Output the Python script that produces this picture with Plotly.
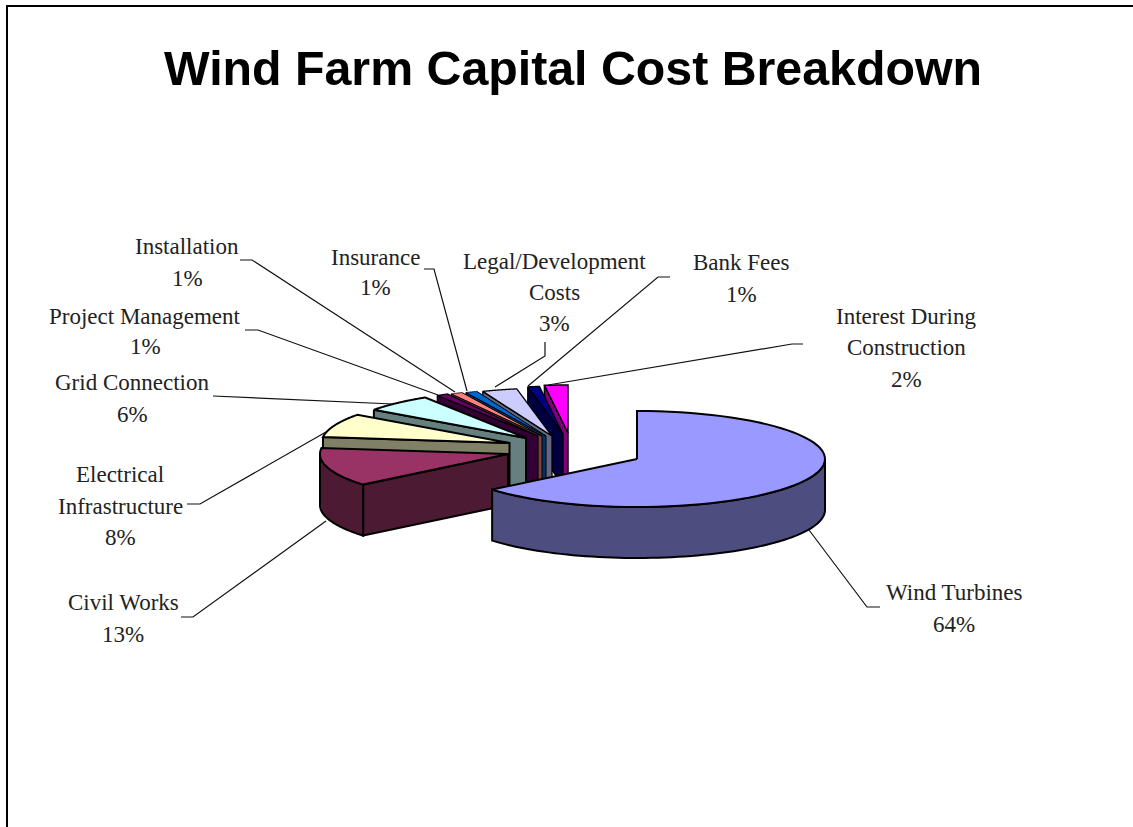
import numpy as np
import plotly.graph_objects as go

# --- data
categories = ["Wind Turbines", "Civil Works", "Electrical Infrastructure", "Grid Connection",
              "Project Management", "Installation", "Insurance",
              "Legal/Development Costs", "Bank Fees", "Interest During Construction"]
values = [64, 13, 8, 6, 1, 1, 1, 3, 1, 2]
title = "Wind Farm Capital Cost Breakdown"

# --- style
top_colors = ["#9999FF", "#993366", "#FFFFCC", "#CCFFFF", "#660066",
              "#FF8080", "#0066CC", "#CCCCFF", "#000080", "#FF00FF"]
side_colors = ["#4D4D80", "#4D1A33", "#808066", "#668080", "#330033",
               "#804040", "#003366", "#666680", "#000040", "#800080"]
edge_widths = [2, 2, 2, 2, 1.2, 1, 1, 1.3, 1.3, 1.5]

# --- projected pie geometry (explosion of each slice = position of its apex)
RX, RY, DEPTH = 188, 48, 51
apex_x = [637, 508, 509.5, 526, 538, 542, 546, 552, 563, 568]
apex_y = [459, 454, 443, 438, 436, 436, 436, 436, 434, 433]

# --- label layout: label lines, centre x, y of each line
label_lines = [
    ["Wind Turbines"], ["Civil Works"], ["Electrical", "Infrastructure"], ["Grid Connection"],
    ["Project Management"], ["Installation"], ["Insurance"],
    ["Legal/Development", "Costs"], ["Bank Fees"], ["Interest During", "Construction"],
]
label_x = [954, 123, 120, 132, 145, 187, 375, 554, 741, 906]
label_y = [
    [592, 624], [602, 634], [474, 506, 537], [382, 414], [316, 346],
    [246, 278], [257, 287], [261, 292, 323], [262, 294], [316, 347, 379],
]
leader_x = [
    [809, 867, 880], [326, 193, 181], [326, 200, 187], [393, 213], [438, 258, 245],
    [455, 252, 240], [467, 434, 424], [495, 545, 545], [528, 658, 670], [548, 792, 803],
]
leader_y = [
    [530, 607, 607], [521, 617, 617], [432, 504, 504], [404, 396], [395, 330, 330],
    [392, 260, 260], [391, 269, 269], [387, 356, 342], [386, 277, 277], [385, 344, 344],
]

fracs = np.array(values, dtype=float) / sum(values)
edges = np.concatenate([[0.0], np.cumsum(fracs) * 360.0])


def rim(cx, cy, a0, a1, n=70):
    th = np.radians(np.linspace(a0, a1, n))
    return cx + RX * np.sin(th), cy - RY * np.cos(th)


def poly(fig, xs, ys, color, width):
    fig.add_trace(go.Scatter(x=xs, y=ys, mode="lines", fill="toself", fillcolor=color,
                             line=dict(color="black", width=width, simplify=False),
                             hoverinfo="skip", showlegend=False))


fig = go.Figure()

# far slices first, the big front slice last
for i in range(len(values) - 1, -1, -1):
    a0, a1 = edges[i], edges[i + 1]
    cx, cy = apex_x[i], apex_y[i]
    w = edge_widths[i]
    ax, ay = rim(cx, cy, a0, a1)
    if i != 0:
        # wall along the slice's leading radius
        poly(fig, [ax[0], cx, cx, ax[0], ax[0]],
             [ay[0], cy, cy + DEPTH, ay[0] + DEPTH, ay[0]], side_colors[i], w)
    # outer rim where it faces the viewer (90..270 degrees)
    lo, hi = max(a0, 90.0), min(a1, 270.0)
    if lo < hi:
        rx, ry = rim(cx, cy, lo, hi)
        poly(fig, np.concatenate([rx, rx[::-1], rx[:1]]),
             np.concatenate([ry, ry[::-1] + DEPTH, ry[:1]]), side_colors[i], w)
    # top face
    poly(fig, np.concatenate([[cx], ax, [cx]]), np.concatenate([[cy], ay, [cy]]), top_colors[i], w)

# leader lines
for xs, ys in zip(leader_x, leader_y):
    fig.add_trace(go.Scatter(x=xs, y=ys, mode="lines", line=dict(color="#111111", width=1.2),
                             hoverinfo="skip", showlegend=False))

# labels
annotations = []
for lines, x, ys, v in zip(label_lines, label_x, label_y, values):
    for text, y in zip(lines + [f"{v}%"], ys):
        annotations.append(dict(x=x, y=y, text=text, showarrow=False, xanchor="center",
                                yanchor="middle", font=dict(family="Liberation Serif", size=23, color="#222222")))

fig.update_layout(
    width=1133, height=827, autosize=False,
    margin=dict(l=0, r=0, t=0, b=0),
    paper_bgcolor="white", plot_bgcolor="white",
    showlegend=False,
    title=dict(text=f"<b>{title}</b>", x=573 / 1133, y=1 - 68 / 827, xanchor="center", yanchor="middle",
               xref="paper", yref="container",
               font=dict(family="Liberation Sans", size=48.3, color="black")),
    xaxis=dict(range=[0, 1133], visible=False, fixedrange=True),
    yaxis=dict(range=[827, 0], visible=False, fixedrange=True),
    annotations=annotations,
    shapes=[dict(type="rect", xref="x", yref="y", x0=7, y0=6, x1=1200, y1=900,
                 line=dict(color="black", width=2), fillcolor="rgba(0,0,0,0)", layer="below")],
)
fig.write_html("out.html", config={"displayModeBar": False},
               post_script="document.body.style.margin='0';document.body.style.overflow='hidden';")
